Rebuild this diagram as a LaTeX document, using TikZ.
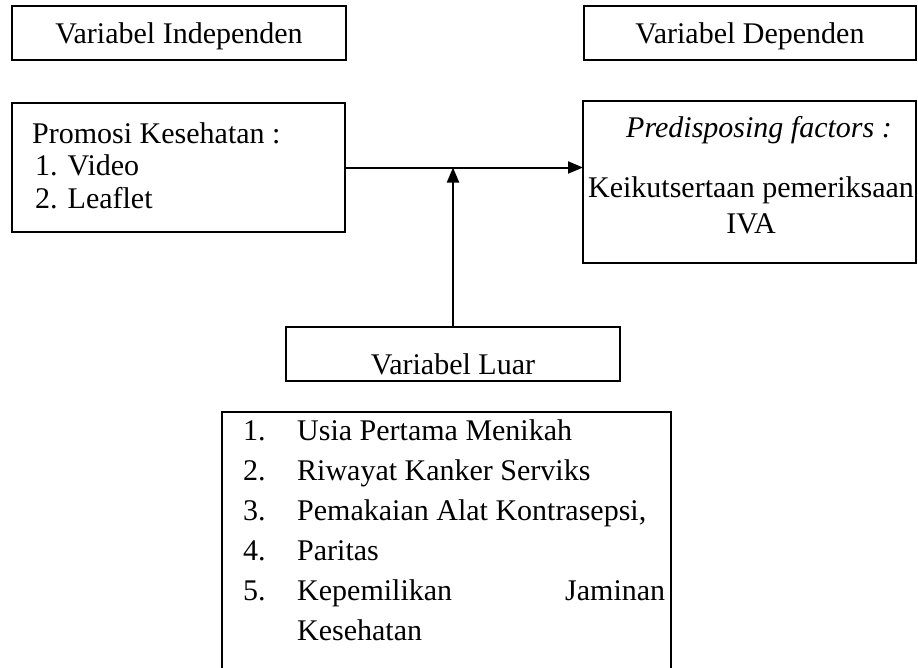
\documentclass[tikz,border=0pt]{standalone}
\usepackage{fontspec}
\setmainfont{Liberation Serif}
\usetikzlibrary{positioning,arrows.meta}

\begin{document}
\begin{tikzpicture}[
	x=1pt,y=-1pt,
	font=\fontsize{30}{36}\selectfont,
	thinbox/.style={draw, line width=1.1pt, inner sep=0pt, outer sep=0pt, anchor=north west},
	thickbox/.style={draw, line width=2pt, inner sep=0pt, outer sep=0pt, anchor=north west},
	txt/.style={inner sep=0pt, anchor=base},
	item/.style={inner sep=0pt, anchor=base west},
	arr/.style={line width=2pt, -{Triangle[length=15pt,width=12pt]}}
]
	\clip (0,0) rectangle (918,667);

	% Boxes
	\node[thinbox, minimum width=334pt, minimum height=54pt] (indep) at (12,6) {};
	\node[thinbox, minimum width=332pt, minimum height=54pt] (dep) at (584,6) {};
	\node[thickbox, minimum width=333pt, minimum height=129pt] (promosi) at (12,103) {};
	\node[thickbox, minimum width=333pt, minimum height=162pt] (pred) at (583,101) {};
	\node[thinbox, minimum width=334pt, minimum height=54pt] (luar) at (286,327) {};
	\node[thickbox, minimum width=449pt, minimum height=300pt] (faktor) at (222,412) {};

	% Texts
	\node[txt] (indeptxt) at (179,43) {Variabel Independen};
	\node[txt] (deptxt) at (750,43) {Variabel Dependen};
	\node[item] (promosi0) at (32,143) {Promosi Kesehatan :};
	\node[item] (promosi1) at (35,175) {1. Video};
	\node[item] (promosi2) at (35,208) {2. Leaflet};
	\node[txt] (predtxt) at (759,137) {\itshape Predisposing factors :};
	\node[txt] (ikut) at (751,197) {Keikutsertaan pemeriksaan};
	\node[txt] (iva) at (751,233) {IVA};
	\node[txt] (luartxt) at (453,374) {Variabel Luar};
	\node[item] (f1) at (243,440) {\makebox[54pt][l]{1.}Usia Pertama Menikah};
	\node[item] (f2) at (243,480) {\makebox[54pt][l]{2.}Riwayat Kanker Serviks};
	\node[item] (f3) at (243,520) {\makebox[54pt][l]{3.}Pemakaian Alat Kontrasepsi,};
	\node[item] (f4) at (243,560) {\makebox[54pt][l]{4.}Paritas};
	\node[item] (f5) at (243,600) {\makebox[54pt][l]{5.}\hbox to 368pt{Kepemilikan\hfill Jaminan}};
	\node[item] (f6) at (297,640) {Kesehatan};

	% Arrows
	\coordinate (join) at (luar.north |- promosi.east);
	\draw[arr] (promosi.east) -- (pred.west |- promosi.east);
	\draw[arr] (luar.north) -- (join);
\end{tikzpicture}
\end{document}
